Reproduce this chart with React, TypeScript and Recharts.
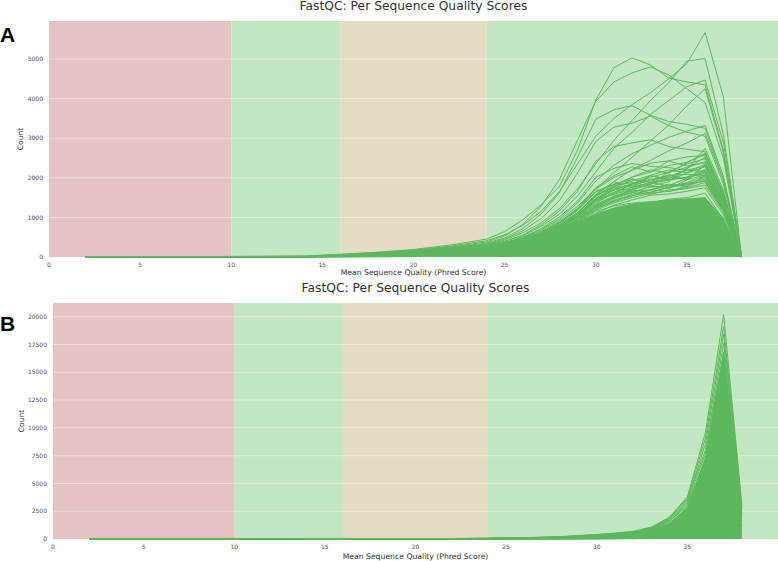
import React from 'react'
import { ComposedChart, Line, Area, XAxis, YAxis, ReferenceArea } from 'recharts'

const Q_A = [2, 14, 16, 18, 20, 22, 24, 25, 26, 27, 28, 29, 30, 31, 32, 33, 34, 35, 36, 37, 38]
const Q_B = [2, 14, 16, 18, 20, 22, 24, 26, 28, 30, 31, 32, 33, 34, 35, 36, 37, 38]

const X_TICKS = [0, 5, 10, 15, 20, 25, 30, 35]
const Y_TICKS_A = [0, 1000, 2000, 3000, 4000, 5000]
const Y_TICKS_B = [0, 2500, 5000, 7500, 10000, 12500, 15000, 17500, 20000]

// quality bands: [from, to]
const BAND_EDGES = [[0, 10], [10, 16], [16, 24], [24, 40]]
const BAND_COLORS = ['#e6c3c3', '#c3e6c3', '#e6dcc3', '#c3e6c3']

// Panel A – samples with the highest counts
const UPPER_A = [
  [0, 20, 65, 110, 175, 270, 410, 560, 800, 1150, 1650, 2350, 3050, 3500, 3850, 4150, 4500, 4880, 5670, 4050, 0],
  [0, 22, 70, 120, 190, 300, 450, 640, 940, 1320, 1780, 2700, 3960, 4780, 5030, 4850, 4520, 4420, 4350, 2700, 0],
  [0, 18, 55, 95, 160, 250, 380, 530, 820, 1280, 1950, 2950, 3930, 4420, 4650, 4800, 4600, 4250, 3900, 2500, 0],
  [0, 12, 42, 82, 135, 205, 310, 430, 610, 860, 1220, 1720, 2350, 2950, 3450, 3950, 4400, 4950, 5010, 3100, 0],
  [0, 11, 40, 74, 124, 195, 290, 395, 540, 770, 1080, 1540, 2150, 2750, 3150, 3600, 3950, 4300, 4470, 2900, 0],
  [0, 16, 52, 92, 155, 235, 350, 480, 720, 1080, 1620, 2520, 3480, 3720, 3820, 3580, 3420, 3350, 3250, 1950, 0],
  [0, 13, 46, 84, 142, 225, 335, 455, 660, 970, 1420, 2120, 2920, 3280, 3380, 3560, 3320, 3150, 3050, 1850, 0],
  [0, 9, 32, 62, 104, 165, 255, 345, 480, 660, 920, 1280, 1720, 2130, 2520, 2930, 3330, 3820, 4250, 2650, 0],
]

const MIDDLE_A = [
  [0, 10, 36, 66, 112, 172, 262, 352, 485, 690, 960, 1360, 1920, 2320, 2610, 2820, 3020, 3180, 3320, 2050, 0],
  [0, 12, 41, 72, 121, 192, 292, 395, 555, 810, 1160, 1660, 2420, 2790, 2880, 2960, 2790, 2720, 2660, 1620, 0],
  [0, 8, 30, 56, 96, 152, 232, 312, 425, 585, 805, 1110, 1560, 1910, 2210, 2440, 2680, 2880, 3120, 1950, 0],
  [0, 10, 35, 61, 101, 162, 243, 333, 455, 625, 875, 1210, 1710, 2010, 2190, 2370, 2430, 2530, 2560, 1540, 0],
  [0, 9, 32, 58, 97, 151, 226, 302, 412, 565, 782, 1060, 1460, 1760, 2020, 2140, 2310, 2390, 2620, 1630, 0],
  [0, 11, 38, 67, 112, 176, 266, 362, 505, 715, 1010, 1410, 2010, 2240, 2360, 2290, 2260, 2190, 2160, 1310, 0],
  [0, 7, 28, 51, 86, 136, 206, 282, 382, 524, 722, 985, 1350, 1620, 1840, 2010, 2140, 2260, 2410, 1520, 0],
  [0, 8, 30, 54, 91, 141, 216, 291, 397, 543, 745, 1005, 1410, 1640, 1810, 1940, 2060, 2090, 2060, 1260, 0],
  [0, 10, 34, 60, 101, 156, 236, 322, 442, 612, 852, 1185, 1660, 1840, 1960, 1890, 1960, 2010, 2110, 1320, 0],
  [0, 6, 25, 46, 79, 126, 191, 262, 352, 482, 662, 905, 1250, 1510, 1690, 1860, 1940, 2020, 2210, 1360, 0],
  [0, 9, 31, 56, 93, 146, 221, 301, 412, 572, 792, 1105, 1550, 1760, 1790, 1760, 1810, 1840, 1910, 1160, 0],
  [0, 7, 27, 49, 83, 131, 201, 271, 367, 503, 693, 945, 1300, 1540, 1660, 1700, 1790, 1860, 1960, 1210, 0],
  [0, 8, 29, 53, 89, 140, 212, 288, 392, 540, 745, 1020, 1420, 1700, 1980, 1820, 2150, 2350, 2480, 1500, 0],
  [0, 9, 33, 59, 98, 153, 231, 314, 428, 590, 815, 1120, 1580, 1900, 1750, 2050, 1980, 2210, 2740, 1700, 0],
  [0, 7, 26, 47, 80, 127, 193, 263, 357, 490, 676, 925, 1280, 1480, 1620, 1790, 1720, 1950, 2320, 1420, 0],
  [0, 10, 35, 62, 104, 162, 245, 333, 455, 630, 880, 1230, 1750, 2050, 2280, 2150, 2420, 2300, 2380, 1450, 0],
  [0, 6, 24, 44, 75, 120, 183, 250, 340, 465, 640, 875, 1210, 1420, 1580, 1690, 1840, 1780, 2050, 1250, 0],
  [0, 8, 30, 54, 91, 143, 218, 296, 403, 553, 760, 1040, 1450, 1690, 1840, 2060, 1930, 2120, 2280, 1390, 0],
  [0, 7, 27, 49, 83, 132, 200, 272, 370, 510, 700, 960, 1330, 1530, 1700, 1620, 1760, 1880, 2050, 1240, 0],
  [0, 9, 32, 57, 95, 149, 226, 307, 418, 578, 798, 1100, 1530, 1780, 1920, 2060, 2200, 2130, 2340, 1430, 0],
  [0, 8, 28, 52, 88, 138, 210, 285, 388, 532, 730, 1000, 1390, 1610, 1760, 1880, 1800, 1990, 2150, 1330, 0],
  [0, 9, 31, 56, 94, 147, 223, 303, 412, 566, 780, 1070, 1490, 1720, 1690, 1850, 2020, 1960, 2190, 1350, 0],
  [0, 7, 26, 48, 81, 128, 195, 265, 360, 494, 680, 930, 1290, 1500, 1630, 1580, 1690, 1750, 1880, 1160, 0],
  [0, 10, 34, 61, 102, 159, 241, 327, 446, 616, 850, 1170, 1640, 1820, 2020, 2200, 2120, 2380, 2600, 1600, 0],
  [0, 6, 23, 43, 73, 116, 177, 242, 330, 452, 622, 852, 1180, 1370, 1500, 1610, 1660, 1730, 1820, 1120, 0],
  [0, 8, 29, 53, 90, 141, 215, 292, 398, 548, 755, 1035, 1440, 1580, 1720, 1900, 2080, 1950, 2070, 1280, 0],
  [0, 7, 25, 46, 78, 124, 189, 257, 350, 480, 660, 905, 1250, 1440, 1550, 1640, 1760, 1820, 2010, 1230, 0],
  [0, 9, 32, 58, 97, 152, 231, 313, 427, 588, 810, 1115, 1560, 1810, 1880, 1790, 1900, 2240, 2520, 1560, 0],
  [0, 6, 24, 45, 76, 121, 184, 251, 341, 468, 644, 882, 1220, 1400, 1540, 1700, 1650, 1790, 1940, 1200, 0],
  [0, 8, 30, 55, 92, 145, 220, 299, 407, 560, 772, 1060, 1480, 1690, 1860, 1960, 2030, 2190, 2300, 1420, 0],
]

const LOWER_A = [
  [0, 6, 24, 44, 75, 120, 180, 245, 330, 450, 610, 820, 1100, 1310, 1440, 1560, 1590, 1660, 1750, 1060, 0],
  [0, 5, 22, 40, 70, 110, 165, 225, 300, 410, 560, 750, 1010, 1190, 1310, 1370, 1460, 1500, 1610, 960, 0],
  [0, 7, 26, 46, 78, 122, 185, 250, 335, 455, 620, 830, 1150, 1290, 1360, 1400, 1410, 1460, 1500, 910, 0],
  [0, 5, 20, 37, 63, 100, 150, 205, 275, 375, 510, 690, 930, 1090, 1190, 1260, 1310, 1390, 1440, 860, 0],
  [0, 4, 18, 33, 56, 90, 135, 185, 250, 340, 460, 620, 840, 980, 1080, 1150, 1200, 1250, 1300, 780, 0],
  [0, 4, 16, 30, 51, 82, 123, 168, 225, 305, 415, 560, 760, 880, 960, 1000, 1060, 1100, 1150, 700, 0],
  [0, 3, 12, 23, 40, 64, 96, 132, 178, 240, 325, 440, 590, 690, 760, 800, 830, 860, 900, 540, 0],
  [0, 2, 8, 15, 26, 42, 63, 87, 118, 158, 215, 290, 390, 455, 500, 525, 545, 560, 590, 350, 0],
  [0, 1, 5, 9, 15, 25, 37, 51, 69, 93, 126, 170, 230, 265, 290, 305, 320, 330, 350, 210, 0],
  [0, 1, 3, 6, 10, 16, 24, 33, 45, 60, 82, 110, 150, 175, 190, 200, 210, 220, 230, 140, 0],
]

// upper edge of the part of panel A where the hundreds of overlapping lines read as solid green
const DENSE_A = [0, 20, 60, 100, 170, 250, 320, 380, 460, 560, 700, 880, 1100, 1250, 1350, 1400, 1450, 1480, 1500, 1000, 0]

// Panel B
const SAMPLES_B = [
  [0, 6, 12, 18, 28, 45, 70, 120, 210, 410, 530, 690, 1060, 1950, 3800, 9600, 20200, 3200],
  [0, 5, 10, 16, 25, 40, 62, 108, 195, 385, 500, 650, 1000, 1880, 3650, 9100, 19100, 3000],
  [0, 4, 9, 14, 22, 37, 58, 100, 182, 360, 470, 615, 950, 1750, 3400, 8600, 18400, 2700],
  [0, 5, 9, 15, 23, 38, 60, 104, 188, 372, 485, 640, 985, 1820, 3550, 8000, 17600, 2900],
  [0, 4, 8, 13, 20, 33, 52, 92, 168, 335, 440, 580, 900, 1680, 3250, 7700, 16800, 2400],
  [0, 3, 7, 11, 18, 30, 47, 84, 155, 310, 405, 540, 840, 1560, 3000, 7200, 15900, 2600],
  [0, 4, 8, 12, 19, 31, 49, 88, 160, 318, 418, 550, 860, 1600, 3100, 6900, 14800, 2100],
  [0, 3, 6, 10, 16, 27, 43, 77, 142, 285, 372, 495, 770, 1420, 2750, 6300, 13600, 2300],
  [0, 3, 6, 9, 15, 25, 40, 72, 132, 265, 348, 460, 720, 1330, 2600, 5800, 12400, 1900],
  [0, 3, 5, 8, 13, 22, 35, 63, 117, 235, 308, 410, 640, 1180, 2300, 5200, 11100, 2000],
  [0, 2, 5, 8, 12, 20, 32, 58, 106, 212, 280, 370, 580, 1060, 2050, 4600, 9800, 1600],
  [0, 2, 4, 7, 11, 18, 28, 51, 94, 188, 246, 328, 510, 940, 1800, 4000, 8500, 1500],
  [0, 2, 4, 6, 9, 15, 24, 43, 80, 160, 210, 280, 435, 800, 1550, 3400, 7200, 1200],
  [0, 2, 3, 5, 8, 13, 20, 36, 66, 132, 173, 230, 360, 660, 1280, 2850, 6000, 1100],
  [0, 1, 3, 4, 6, 10, 16, 29, 54, 108, 142, 188, 295, 540, 1040, 2300, 4800, 850],
  [0, 1, 2, 3, 5, 8, 12, 22, 41, 82, 108, 143, 225, 410, 790, 1750, 3700, 700],
  [0, 1, 2, 2, 4, 6, 9, 16, 30, 60, 79, 105, 165, 300, 580, 1300, 2600, 480],
  [0, 0, 1, 2, 3, 4, 6, 11, 20, 40, 52, 70, 110, 200, 390, 850, 1700, 320],
  [0, 0, 1, 1, 2, 3, 4, 8, 15, 30, 40, 52, 82, 150, 290, 640, 1250, 240],
  [0, 0, 1, 1, 1, 2, 3, 6, 11, 22, 29, 38, 60, 110, 210, 470, 900, 160],
  [0, 0, 0, 1, 1, 2, 2, 4, 7, 14, 18, 24, 38, 70, 135, 300, 550, 100],
]

const DENSE_B = [0, 3, 6, 10, 15, 25, 40, 75, 140, 290, 380, 500, 780, 1450, 2900, 7500, 17000, 2500]

const FONT = '"DejaVu Sans", sans-serif'
const PASS = '#5cb85c'
const PLOT_HEIGHT = 236

const toRows = (q: number[], counts: number[]) => q.map((x, i) => ({ q: x, count: counts[i] }))

interface PanelProps {
  top: number
  height: number
  marginTop: number
  xAxisHeight: number
  yAxisWidth: number
  yMax: number
  yTicks: number[]
  q: number[]
  samples: number[][]
  dense: number[]
  xTickDy: number
}

function QualityPanel(p: PanelProps) {
  const xTick = (t: any) => (
    <text x={t.x} y={t.y + p.xTickDy} textAnchor="middle" fontSize={6} fill="#555" fontFamily={FONT}>
      {t.payload.value}
    </text>
  )
  const yTick = (t: any) => (
    <text x={t.x - 6} y={t.y + 2.1} textAnchor="end" fontSize={6} fill="#555" fontFamily={FONT}>
      {t.payload.value}
    </text>
  )
  // half a pixel in data units, so the grid strips sit in the band layer under the lines
  const half = (p.yMax / PLOT_HEIGHT) * 0.5
  return (
    <div style={{ position: 'absolute', left: 0, top: p.top, width: 778, height: p.height }}>
      <ComposedChart width={778} height={p.height} margin={{ top: p.marginTop, right: 0, bottom: 0, left: 0 }}>
        <XAxis
          type="number"
          dataKey="q"
          domain={[0, 40]}
          ticks={X_TICKS}
          interval={0}
          height={p.xAxisHeight}
          axisLine={false}
          tickLine={false}
          tickSize={0}
          tickMargin={0}
          tick={xTick}
        />
        <YAxis
          type="number"
          domain={[0, p.yMax]}
          ticks={p.yTicks}
          interval={0}
          width={p.yAxisWidth}
          axisLine={false}
          tickLine={false}
          tickSize={0}
          tickMargin={0}
          tick={yTick}
        />
        {BAND_EDGES.map(([from, to], i) => (
          <ReferenceArea key={'band' + i} x1={from} x2={to} fill={BAND_COLORS[i]} fillOpacity={1} stroke="none" />
        ))}
        {p.yTicks.slice(1).map((v) => (
          <ReferenceArea key={'grid' + v} y1={v - half} y2={v + half} fill="#ffffff" fillOpacity={0.4} stroke="none" />
        ))}
        <Area
          data={toRows(p.q, p.dense)}
          dataKey="count"
          type="linear"
          stroke="none"
          fill={PASS}
          fillOpacity={1}
          dot={false}
          activeDot={false}
          isAnimationActive={false}
        />
        {p.samples.map((s, i) => (
          <Line
            key={'s' + i}
            data={toRows(p.q, s)}
            dataKey="count"
            type="linear"
            stroke={PASS}
            strokeWidth={1}
            dot={false}
            activeDot={false}
            isAnimationActive={false}
          />
        ))}
      </ComposedChart>
    </div>
  )
}

export default function App() {
  const textStyle = { fontFamily: FONT }
  return (
    <div style={{ position: 'absolute', left: 0, top: 0, width: 778, height: 561, background: '#fff' }}>
      <QualityPanel
        top={0}
        height={280}
        marginTop={21}
        xAxisHeight={23}
        yAxisWidth={49}
        yMax={5960}
        yTicks={Y_TICKS_A}
        q={Q_A}
        samples={[...LOWER_A, ...MIDDLE_A, ...UPPER_A]}
        dense={DENSE_A}
        xTickDy={9.5}
      />
      <QualityPanel
        top={280}
        height={281}
        marginTop={23}
        xAxisHeight={22}
        yAxisWidth={53}
        yMax={21230}
        yTicks={Y_TICKS_B}
        q={Q_B}
        samples={SAMPLES_B}
        dense={DENSE_B}
        xTickDy={10}
      />
      <svg width={778} height={561} style={{ position: 'absolute', left: 0, top: 0, pointerEvents: 'none' }}>
        <text x={413.5} y={9.5} textAnchor="middle" fontSize={12.3} fill="#333" style={textStyle}>
          FastQC: Per Sequence Quality Scores
        </text>
        <text x={0} y={41.7} fontSize={21} fontWeight="bold" fill="#000" fontFamily='"Liberation Sans", Arial, sans-serif'>
          A
        </text>
        <text x={413.5} y={275} textAnchor="middle" fontSize={7.7} fill="#333" style={textStyle}>
          Mean Sequence Quality (Phred Score)
        </text>
        <text transform="translate(22.5,139) rotate(-90)" textAnchor="middle" fontSize={7.5} fill="#333" style={textStyle}>
          Count
        </text>

        <text x={415.5} y={292.3} textAnchor="middle" fontSize={12.3} fill="#333" style={textStyle}>
          FastQC: Per Sequence Quality Scores
        </text>
        <text x={0} y={330.7} fontSize={21} fontWeight="bold" fill="#000" fontFamily='"Liberation Sans", Arial, sans-serif'>
          B
        </text>
        <text x={415.5} y={558.5} textAnchor="middle" fontSize={7.7} fill="#333" style={textStyle}>
          Mean Sequence Quality (Phred Score)
        </text>
        <text transform="translate(23.5,421) rotate(-90)" textAnchor="middle" fontSize={7.5} fill="#333" style={textStyle}>
          Count
        </text>
      </svg>
    </div>
  )
}
